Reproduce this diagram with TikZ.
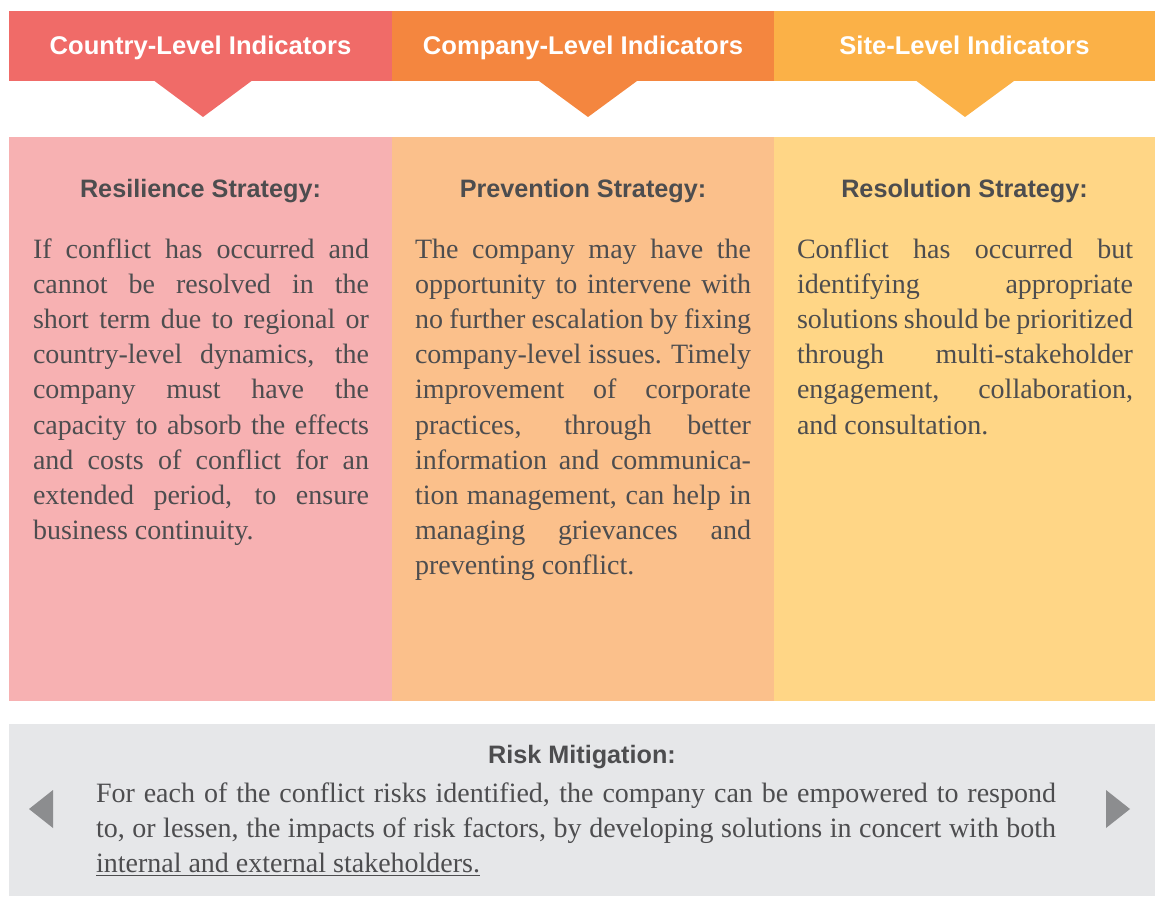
\documentclass[tikz,border=0pt]{standalone}
\usepackage[svgnames]{xcolor}
\usepackage{fontspec}
\setmainfont{Liberation Serif}
\setsansfont{Liberation Sans}
\usetikzlibrary{positioning}
\definecolor{HdRed}{HTML}{F06B68}
\definecolor{HdOrange}{HTML}{F4863F}
\definecolor{HdYellow}{HTML}{FBB147}
\definecolor{BxPink}{HTML}{F7B1B2}
\definecolor{BxPeach}{HTML}{FBC08B}
\definecolor{BxSand}{HTML}{FFD686}
\definecolor{PanelGray}{HTML}{E6E7E9}
\definecolor{TipGray}{HTML}{8C8D8F}
\definecolor{Ink}{HTML}{4D4D4F}
\newcommand{\stakeul}[1]{\setbox0\hbox{#1}\rlap{\vrule width\wd0 height -2.4pt depth 3.8pt}\box0}
\newcommand{\nobreaks}{\hyphenpenalty=10000 \exhyphenpenalty=10000 \tolerance=10000 }

\begin{document}
\begin{tikzpicture}[x=1pt, y=-1pt,
      every node/.append style={inner sep=0pt, outer sep=0pt},
      band/.style={rectangle, minimum height=70pt, text height=18pt, text depth=0pt, text=white,
        font=\sffamily\bfseries\fontsize{25.6}{30}\selectfont},
      panel/.style={rectangle, minimum height=564pt},
      title/.style={anchor=base, text=Ink,
        font=\sffamily\bfseries\fontsize{25.2}{28}\selectfont},
      body/.style={anchor=base west, text width=336pt, align=justify, text=Ink,
        font=\rmfamily\fontsize{28}{35.2}\selectfont}]
	  \useasboundingbox (0,0) rectangle (1155,896);
	  \node (hd_1) [band, fill=HdRed, minimum width=383pt] at (200.5,46) {Country-Level Indicators};
	  \node (hd_2) [band, fill=HdOrange, minimum width=382pt, right=0pt of hd_1] {Company-Level Indicators};
	  \node (hd_3) [band, fill=HdYellow, minimum width=381pt, right=0pt of hd_2] {Site-Level Indicators};
	  \fill[HdRed] ([xshift=-46pt]hd_1.south) -- ([xshift=51pt]hd_1.south) -- ([xshift=2.5pt, yshift=-36pt]hd_1.south) -- cycle;
	  \fill[HdOrange] ([xshift=-44pt]hd_2.south) -- ([xshift=54pt]hd_2.south) -- ([xshift=5pt, yshift=-36pt]hd_2.south) -- cycle;
	  \fill[HdYellow] ([xshift=-48pt]hd_3.south) -- ([xshift=49.5pt]hd_3.south) -- ([xshift=0.5pt, yshift=-36pt]hd_3.south) -- cycle;
	  \node (bx_1) [panel, fill=BxPink, minimum width=383pt, below=56pt of hd_1] {};
	  \node (bx_2) [panel, fill=BxPeach, minimum width=382pt, right=0pt of bx_1] {};
	  \node (bx_3) [panel, fill=BxSand, minimum width=381pt, right=0pt of bx_2] {};
	  \node (tt_1) [title] at ([yshift=-60pt]bx_1.north) {Resilience Strategy:};
	  \node (tt_2) [title] at ([yshift=-60pt]bx_2.north) {Prevention Strategy:};
	  \node (tt_3) [title] at ([yshift=-60pt]bx_3.north) {Resolution Strategy:};
	  \node (tx_1) [body] at ([xshift=24pt, yshift=-121pt]bx_1.north west) {\nobreaks If conflict has occurred and\linebreak
	    cannot be resolved in the\linebreak short term due to regional or\linebreak
	    country-level dynamics, the\linebreak company must have the\linebreak
	    capacity to absorb the effects\linebreak and costs of conflict for an\linebreak
	    extended period, to ensure\linebreak business continuity.};
	  \node (tx_2) [body] at ([xshift=23pt, yshift=-121pt]bx_2.north west) {\nobreaks The company may have the\linebreak
	    opportunity to intervene with\linebreak no further escalation by fixing\linebreak
	    company-level issues. Timely\linebreak improvement of corporate\linebreak
	    practices, through better\linebreak information and communica-\linebreak
	    tion management, can help in\linebreak managing grievances and\linebreak
	    preventing conflict.};
	  \node (tx_3) [body] at ([xshift=23pt, yshift=-121pt]bx_3.north west) {\nobreaks Conflict has occurred but\linebreak
	    identifying appropriate\linebreak solutions should be prioritized\linebreak
	    through multi-stakeholder\linebreak engagement, collaboration,\linebreak
	    and consultation.};
	  \node (rk) [rectangle, fill=PanelGray, minimum width=1146pt, minimum height=172pt, anchor=north west]
	    at ([yshift=-23pt]bx_1.south west) {};
	  \node (rk_t) [title] at ([yshift=-39pt]rk.north) {Risk Mitigation:};
	  \node (rk_x) [body, text width=960pt] at ([xshift=87pt, yshift=-78pt]rk.north west) {\nobreaks For each of the
	    conflict risks identified, the company can be empowered to respond\linebreak to, or lessen, the
	    impacts of risk factors, by developing solutions in concert with both\linebreak
	    \stakeul{internal and external stakeholders.}};
	  \fill[TipGray] ([xshift=20pt, yshift=1pt]rk.west) -- ++(24,-19) -- ++(0,38) -- cycle;
	  \fill[TipGray] ([xshift=-25pt, yshift=1pt]rk.east) -- ++(-24,-19) -- ++(0,38) -- cycle;
	\end{tikzpicture}
\end{document}
